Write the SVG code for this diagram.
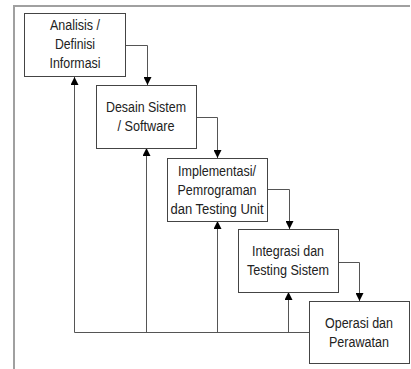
<svg xmlns="http://www.w3.org/2000/svg" width="411" height="369" viewBox="0 0 411 369">
<style>
.frame{fill:none;stroke:#a0a0a0;stroke-width:2}
.box{fill:#fff;stroke:#444;stroke-width:1}
.conn{fill:none;stroke:#555;stroke-width:1}
.t{font-family:"Liberation Sans",Arial,sans-serif;font-size:14px;fill:#222;text-anchor:middle}
</style>
<defs>
<marker id="ah" viewBox="0 0 10 10" refX="10" refY="5" markerWidth="9" markerHeight="8" markerUnits="userSpaceOnUse" orient="auto">
<path d="M0,0 L10,5 L0,10 z" fill="#000"/>
</marker>
</defs>
<rect width="411" height="369" fill="#fff"/>
<path class="frame" d="M14,369 V6 H410"/>
<g id="connectors">
<path class="conn" d="M125.5,45.5 H147.5 V85" marker-end="url(#ah)"/>
<path class="conn" d="M196.5,117.5 H217.5 V158" marker-end="url(#ah)"/>
<path class="conn" d="M267.5,189.5 H289.5 V229" marker-end="url(#ah)"/>
<path class="conn" d="M338.5,262.5 H359.5 V301" marker-end="url(#ah)"/>
<path class="conn" d="M309.5,332.5 H74.5"/>
<path class="conn" d="M74.5,332.5 V77" marker-end="url(#ah)"/>
<path class="conn" d="M146.5,332.5 V148" marker-end="url(#ah)"/>
<path class="conn" d="M217.5,332.5 V221" marker-end="url(#ah)"/>
<path class="conn" d="M288.5,332.5 V292" marker-end="url(#ah)"/>
</g>
<g id="analisis">
<rect class="box" x="24.5" y="13.5" width="101" height="63"/>
<text class="t" x="75" y="30" textLength="50" lengthAdjust="spacingAndGlyphs">Analisis /</text>
<text class="t" x="75" y="49" textLength="40" lengthAdjust="spacingAndGlyphs">Definisi</text>
<text class="t" x="75" y="68" textLength="51" lengthAdjust="spacingAndGlyphs">Informasi</text>
</g>
<g id="desain">
<rect class="box" x="96.5" y="85.5" width="100" height="63"/>
<text class="t" x="146" y="112" textLength="80" lengthAdjust="spacingAndGlyphs">Desain Sistem</text>
<text class="t" x="146" y="131" textLength="57" lengthAdjust="spacingAndGlyphs">/ Software</text>
</g>
<g id="implementasi">
<rect class="box" x="167.5" y="158.5" width="100" height="63"/>
<text class="t" x="217" y="176" textLength="78" lengthAdjust="spacingAndGlyphs">Implementasi/</text>
<text class="t" x="217" y="195" textLength="79" lengthAdjust="spacingAndGlyphs">Pemrograman</text>
<text class="t" x="217" y="214" textLength="93" lengthAdjust="spacingAndGlyphs">dan Testing Unit</text>
</g>
<g id="integrasi">
<rect class="box" x="238.5" y="229.5" width="100" height="63"/>
<text class="t" x="288" y="256" textLength="72" lengthAdjust="spacingAndGlyphs">Integrasi dan</text>
<text class="t" x="288" y="275" textLength="82" lengthAdjust="spacingAndGlyphs">Testing Sistem</text>
</g>
<g id="operasi">
<rect class="box" x="309.5" y="301.5" width="100" height="62"/>
<text class="t" x="359" y="328" textLength="68" lengthAdjust="spacingAndGlyphs">Operasi dan</text>
<text class="t" x="359" y="347" textLength="60" lengthAdjust="spacingAndGlyphs">Perawatan</text>
</g>
</svg>
